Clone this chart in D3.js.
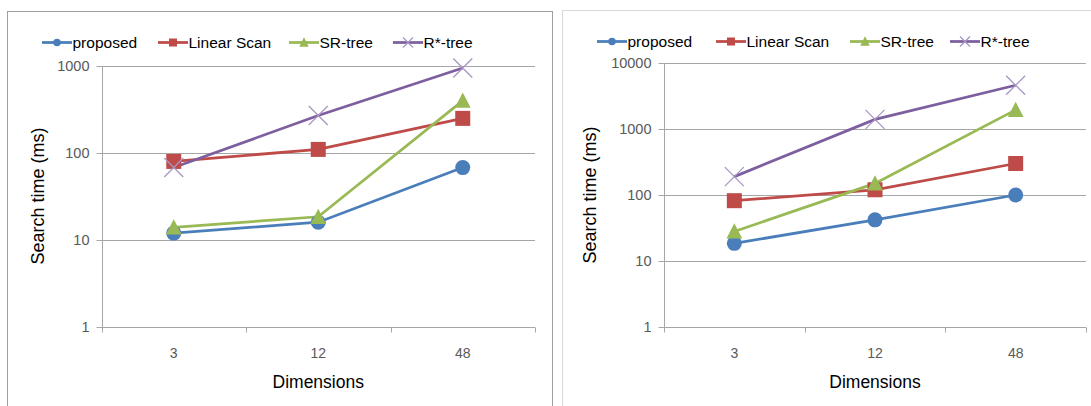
<!DOCTYPE html>
<html>
<head>
<meta charset="utf-8">
<script src="https://cdn.jsdelivr.net/npm/d3@7"></script>
<style>
  html, body { margin: 0; padding: 0; background: #fff; }
  svg { display: block; }
  text { font-family: "Liberation Sans", Arial, sans-serif; }
</style>
</head>
<body>
<svg id="chart" width="1091" height="406"></svg>
<script>
// Dimensions on the x axis
const categories = ["3", "12", "48"];
const seriesNames = ["proposed", "Linear Scan", "SR-tree", "R*-tree"];

// Search times (ms), first experiment
const leftProposed   = [12, 16, 68];
const leftLinearScan = [80, 110, 250];
const leftSRTree     = [14, 18.5, 400];
const leftRStarTree  = [68, 270, 950];
const leftTicks      = [1, 10, 100, 1000];

// Search times (ms), second experiment
const rightProposed   = [18.5, 42, 100];
const rightLinearScan = [82, 120, 300];
const rightSRTree     = [28, 150, 1950];
const rightRStarTree  = [190, 1400, 4600];
const rightTicks      = [1, 10, 100, 1000, 10000];

const colors  = ["#4a7ebb", "#be4b48", "#98b954", "#7d5fa0"];
const markers = ["circle", "square", "triangle", "cross"];

const svg = d3.select("#chart");

function drawMarker(g, type, cx, cy, size, color) {
  if (type === "circle") {
    g.append("circle").attr("cx", cx).attr("cy", cy).attr("r", size / 2).attr("fill", color);
  } else if (type === "square") {
    g.append("rect").attr("x", cx - size / 2).attr("y", cy - size / 2)
      .attr("width", size).attr("height", size).attr("fill", color);
  } else if (type === "triangle") {
    const h = size * 0.95, w = size * 1.05;
    g.append("path")
      .attr("d", `M${cx},${cy - h / 2 - 1}L${cx + w / 2},${cy + h / 2}L${cx - w / 2},${cy + h / 2}Z`)
      .attr("fill", color);
  } else {
    const s = size / 2;
    g.append("path")
      .attr("d", `M${cx - s},${cy - s}L${cx + s},${cy + s}M${cx - s},${cy + s}L${cx + s},${cy - s}`)
      .attr("stroke", "#a896c3").attr("stroke-width", 1.3).attr("fill", "none");
  }
}

function drawPanel(p) {
  const g = svg.append("g");

  // Frame around the chart
  g.append("rect")
    .attr("x", p.frame[0] + 0.5).attr("y", p.frame[1] + 0.5)
    .attr("width", p.frame[2]).attr("height", p.frame[3])
    .attr("fill", "none").attr("stroke", p.frameColor).attr("stroke-width", 1);

  const x = d3.scaleBand().domain(categories).range([p.x0, p.x1]);
  const y = d3.scaleLog().domain([1, p.ticks[p.ticks.length - 1]]).range([p.yBottom, p.yTop]);

  // Horizontal gridlines
  g.append("g").selectAll("line").data(p.ticks.slice(1)).join("line")
    .attr("x1", p.x0).attr("x2", p.x1)
    .attr("y1", d => Math.round(y(d)) + 0.5).attr("y2", d => Math.round(y(d)) + 0.5)
    .attr("stroke", "#a6a6a6").attr("stroke-width", 1);

  // Y axis
  const yAxis = g.append("g").attr("transform", `translate(${Math.round(p.x0) + 0.5},0)`)
    .call(d3.axisLeft(y).tickValues(p.ticks).tickFormat(d3.format("d")).tickSize(6).tickPadding(7));
  yAxis.select(".domain").attr("stroke", "#a6a6a6").attr("d", `M0,${p.yTop}V${p.yBottom}`);
  yAxis.selectAll(".tick").attr("transform", d => `translate(0,${Math.round(y(d)) + 0.5})`);
  yAxis.selectAll(".tick line").attr("stroke", "#a6a6a6");
  yAxis.selectAll(".tick text").attr("fill", "#595959").style("font-size", "14.5px");

  // X axis with ticks between categories
  const xAxis = g.append("g").attr("transform", `translate(0,${p.yBottom + 0.5})`);
  xAxis.append("line").attr("x1", p.x0).attr("x2", p.x1).attr("stroke", "#a6a6a6");
  const edges = categories.map(c => x(c)).concat([p.x1]);
  xAxis.selectAll("line.tk").data(edges).join("line").attr("class", "tk")
    .attr("x1", d => Math.round(d) + 0.5).attr("x2", d => Math.round(d) + 0.5)
    .attr("y1", 0).attr("y2", 5).attr("stroke", "#a6a6a6");
  xAxis.selectAll("text").data(categories).join("text")
    .attr("x", d => x(d) + x.bandwidth() / 2).attr("y", 30)
    .attr("text-anchor", "middle").attr("fill", "#595959").style("font-size", "14px")
    .text(d => d);

  // Axis titles
  g.append("text")
    .attr("x", (p.x0 + p.x1) / 2).attr("y", 388)
    .attr("text-anchor", "middle").style("font-size", "17.5px").attr("fill", "#000")
    .text("Dimensions");
  g.append("text")
    .attr("transform", `translate(${p.yTitleX},${p.yTitleY}) rotate(-90)`)
    .attr("text-anchor", "middle").style("font-size", "18px").attr("fill", "#000")
    .text("Search time (ms)");

  // Series lines and markers
  const cx = i => x(categories[i]) + x.bandwidth() / 2;
  const line = d3.line().x((d, i) => cx(i)).y(d => y(d));
  p.series.forEach((vals, s) => {
    g.append("path").datum(vals).attr("d", line)
      .attr("fill", "none").attr("stroke", colors[s]).attr("stroke-width", 2.75);
  });
  const sizes = { circle: 15, square: 15, triangle: 15, cross: 19 };
  p.series.forEach((vals, s) => {
    vals.forEach((v, i) => drawMarker(g, markers[s], cx(i), y(v), sizes[markers[s]], colors[s]));
  });

  // Legend
  const lg = g.append("g");
  const legendSizes = { circle: 7.5, square: 8, triangle: 9, cross: 10 };
  seriesNames.forEach((name, s) => {
    const lx = p.legendX[s], ly = p.legendY;
    lg.append("line").attr("x1", lx).attr("x2", lx + 30).attr("y1", ly).attr("y2", ly)
      .attr("stroke", colors[s]).attr("stroke-width", 2.75);
    drawMarker(lg, markers[s], lx + 15, ly, legendSizes[markers[s]], colors[s]);
    lg.append("text").attr("x", lx + 30.5).attr("y", ly + 5.5)
      .style("font-size", "15.5px").attr("fill", "#000").text(name);
  });
}

drawPanel({
  frame: [7, 11, 545, 420], frameColor: "#a0a0a0",
  x0: 101.5, x1: 535, yTop: 66, yBottom: 327,
  ticks: leftTicks,
  series: [leftProposed, leftLinearScan, leftSRTree, leftRStarTree],
  legendX: [42, 158, 289, 393], legendY: 42.5,
  yTitleX: 44, yTitleY: 196
});

drawPanel({
  frame: [562, 10, 560, 420], frameColor: "#d8d8d8",
  x0: 664, x1: 1086, yTop: 63, yBottom: 327,
  ticks: rightTicks,
  series: [rightProposed, rightLinearScan, rightSRTree, rightRStarTree],
  legendX: [597, 716, 850, 950], legendY: 41.5,
  yTitleX: 596, yTitleY: 195
});
</script>
</body>
</html>
